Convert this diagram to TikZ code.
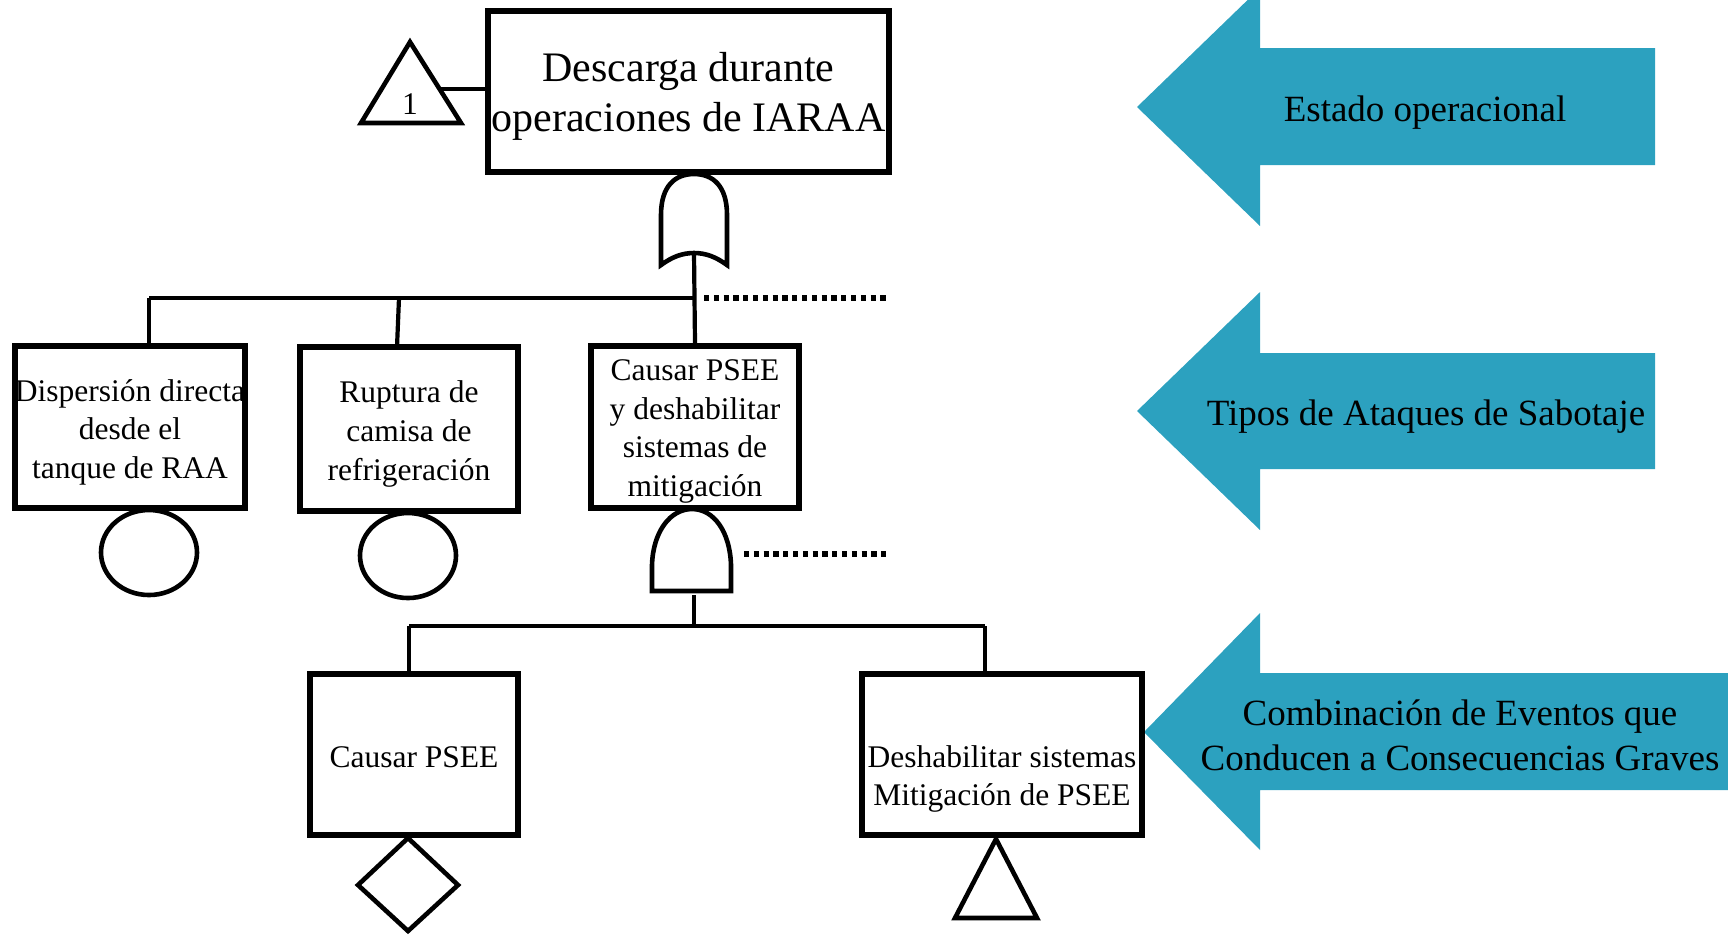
\documentclass[tikz,border=0pt]{standalone}
\usepackage{fontspec}
\setmainfont{Liberation Serif}
\usetikzlibrary{shapes.geometric}
\definecolor{tealA}{RGB}{44,161,191}
\tikzset{
  evbox/.style={draw=black, line width=2.8pt, rectangle, inner sep=0pt, fill=white},
  txt/.style={align=center, inner sep=0pt, font=\fontsize{15.75}{19.3}\selectfont},
  toptxt/.style={align=center, inner sep=0pt, font=\fontsize{21}{25}\selectfont},
  arrtxt/.style={align=center, inner sep=0pt, font=\fontsize{18.5}{22.5}\selectfont},
  conn/.style={line width=2.1pt},
  dotconn/.style={line width=2.6pt, dash pattern=on 2.6pt off 2.3pt},
  sym/.style={draw=black, line width=2.3pt, fill=white},
  bigarrow/.style={fill=tealA, draw=none}
}
\begin{document}
\begin{tikzpicture}[x=0.5pt, y=-0.5pt]
\useasboundingbox (0,0) rectangle (1728,934);
\clip (0,0) rectangle (1728,934);

% side arrows
\fill[bigarrow] (1137,107) -- (1260,-12) -- (1260,48) -- (1655,48) -- (1655,165) -- (1260,165) -- (1260,226) -- cycle;
\fill[bigarrow] (1137,411) -- (1260,292) -- (1260,353) -- (1655,353) -- (1655,469) -- (1260,469) -- (1260,530) -- cycle;
\fill[bigarrow] (1144,732) -- (1260,613) -- (1260,673) -- (1728,673) -- (1728,790) -- (1260,790) -- (1260,850) -- cycle;
\node[arrtxt] (a1) at (1425,112.5) {Estado operacional};
\node[arrtxt] (a2) at (1426,416.5) {Tipos de Ataques de Sabotaje};
\node[arrtxt] (a3) at (1460,735) {Combinación de Eventos que\\Conducen a Consecuencias Graves};

% boxes
\node[evbox, minimum width=200.5pt, minimum height=80.5pt] (top) at (688.5,91.5) {};
\node[evbox, minimum width=115pt, minimum height=81pt] (b1) at (130,427) {};
\node[evbox, minimum width=109pt, minimum height=82pt] (b2) at (409,429) {};
\node[evbox, minimum width=104pt, minimum height=81pt] (b3) at (695,427) {};
\node[evbox, minimum width=104pt, minimum height=80.5pt] (b4) at (414,754.5) {};
\node[evbox, minimum width=140pt, minimum height=80.5pt] (b5) at (1002,754.5) {};

\node[toptxt] (ttop) at ([yshift=-2.5pt]top.center) {Descarga durante\\operaciones de IARAA};
\node[txt] (t1) at ([yshift=-2.5pt]b1.center) {Dispersión directa\\desde el\\tanque de RAA};
\node[txt] (t2) at ([yshift=-2.5pt]b2.center) {Ruptura de\\camisa de\\refrigeración};
\node[txt] (t3) at ([yshift=-2.3pt]b3.center) {Causar PSEE\\y deshabilitar\\sistemas de\\mitigación};
\node[txt] (t4) at ([yshift=-1.6pt]b4.center) {Causar PSEE};
\node[txt] (t5) at ([yshift=-12.3pt]b5.center) {Deshabilitar sistemas\\Mitigación de PSEE};

% transfer triangle 1
\draw[sym] (410,42) -- (461,123) -- (361,123) -- cycle;
\node[txt] (one) at (410,104) {1};
\coordinate (triR) at (440,89);
\draw[conn] (triR) -- (triR -| top.west);

% OR gate
\coordinate (orTop) at (694,174);
\coordinate (orBot) at (694,253);
\draw[sym] (661,265) -- (661,215) .. controls (661,186) and (675,174) .. (orTop)
  .. controls (713,174) and (727,186) .. (727,215) -- (727,265)
  .. controls (716,257) and (706,253) .. (orBot)
  .. controls (682,253) and (672,257) .. (661,265) -- cycle;

% first level connectors
\coordinate (h1L) at (149,298);
\coordinate (h1R) at (694,298);
\coordinate (h1b2) at (399,298);
\draw[conn] (orBot) -- (b3.north);
\draw[conn] (h1L) -- (h1R);
\draw[conn] (h1L) -- (h1L |- b1.north);
\draw[conn] (h1b2) -- (397,347);
\coordinate (d1s) at (704,298);
\coordinate (d1e) at (889,298);
\draw[dotconn] (d1s) -- (d1e);

% basic events (circles)
\node[sym, ellipse, minimum width=48pt, minimum height=42.5pt, inner sep=0pt] (c1) at (149,552.5) {};
\node[sym, ellipse, minimum width=48pt, minimum height=42.5pt, inner sep=0pt] (c2) at (408,555.5) {};

% AND gate
\coordinate (andTop) at (692,509);
\draw[sym] (652,591) -- (652,565) .. controls (653,532) and (670,509) .. (andTop)
  .. controls (714,509) and (730,532) .. (731,565) -- (731,591) -- cycle;
\coordinate (d2s) at (744,554);
\coordinate (d2e) at (890,554);
\draw[dotconn] (d2s) -- (d2e);

% second level connectors
\coordinate (andOut) at (694,595);
\coordinate (h2) at (694,626);
\coordinate (h2L) at (409,626);
\coordinate (h2R) at (985,626);
\draw[conn] (andOut) -- (h2);
\draw[conn] (h2L) -- (h2R);
\draw[conn] (h2L) -- (h2L |- b4.north);
\draw[conn] (h2R) -- (h2R |- b5.north);

% undeveloped event (diamond) and transfer triangle
\draw[sym] (408,838) -- (458,885) -- (408,931) -- (358,885) -- cycle;
\draw[sym] (996,839) -- (1037,918) -- (955,918) -- cycle;
\end{tikzpicture}
\end{document}
